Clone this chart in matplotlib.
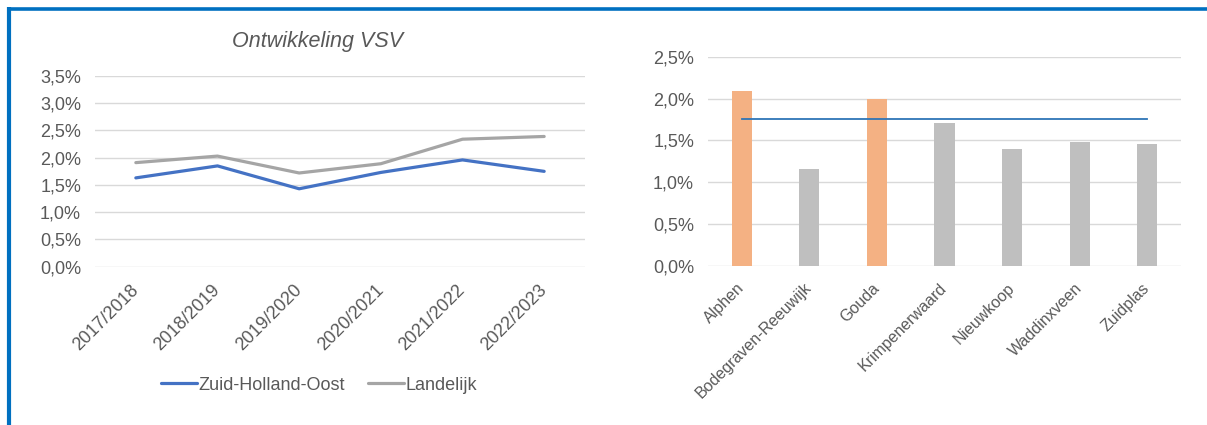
import matplotlib
matplotlib.use("Agg")
import matplotlib.pyplot as plt
from matplotlib.lines import Line2D
from matplotlib.ticker import FuncFormatter, MultipleLocator

plt.rcParams['font.family'] = ['Liberation Sans', 'DejaVu Sans']

# ---- data ----
years = ["2017/2018", "2018/2019", "2019/2020", "2020/2021", "2021/2022", "2022/2023"]
zho = [1.63, 1.85, 1.43, 1.73, 1.96, 1.75]
landelijk = [1.91, 2.03, 1.72, 1.89, 2.34, 2.39]

gemeenten = ["Alphen", "Bodegraven-Reeuwijk", "Gouda", "Krimpenerwaard",
             "Nieuwkoop", "Waddinxveen", "Zuidplas"]
gem_values = [2.09, 1.16, 2.00, 1.71, 1.40, 1.48, 1.46]
highlight = [True, False, True, False, False, False, False]
regio_gemiddelde = 1.75

title_left = "Ontwikkeling VSV"

# ---- style ----
W, H = 1207, 425
fig = plt.figure(figsize=(W / 100, H / 100), dpi=100)
txt = "#595959"
grid_c = "#D9D9D9"
fs = 13

def pct(v, pos):
    return f"{v:.1f}%".replace(".", ",")

def px_axes(x0, x1, ytop, ybot):
    return fig.add_axes([x0 / W, 1 - ybot / H, (x1 - x0) / W, (ybot - ytop) / H])

def style(ax):
    for s in ax.spines.values():
        s.set_visible(False)
    ax.yaxis.set_major_formatter(FuncFormatter(pct))
    ax.yaxis.grid(True, color=grid_c, lw=1.0)
    ax.set_axisbelow(True)
    ax.tick_params(axis='both', length=0, colors=txt, labelsize=fs)
    ax.tick_params(axis='y', pad=10)

# ---- left chart ----
ax1 = px_axes(95, 585, 76, 266.7)
x1 = range(len(years))
ax1.plot(x1, zho, color="#4472C4", lw=2.3, solid_capstyle='round', label="Zuid-Holland-Oost")
ax1.plot(x1, landelijk, color="#A5A5A5", lw=2.3, solid_capstyle='round', label="Landelijk")
ax1.set_xlim(-0.5, len(years) - 0.5)
ax1.set_ylim(0, 3.5)
ax1.yaxis.set_major_locator(MultipleLocator(0.5))
style(ax1)
ax1.set_xticks(list(x1))
ax1.set_xticklabels(years, rotation=45, ha='right', va='center', rotation_mode='anchor')
ax1.tick_params(axis='x', pad=15)
fig.text(318 / W, 1 - 42 / H, title_left, ha='center', va='center',
         fontsize=15.5, style='italic', color=txt)
fig.legend(handles=ax1.get_lines(), labels=[l.get_label() for l in ax1.get_lines()],
           loc='center', bbox_to_anchor=(319 / W, 1 - 385 / H), ncol=2, frameon=False,
           fontsize=fs, labelcolor=txt, handlelength=2.0, handletextpad=0.05,
           columnspacing=1.3)

# ---- right chart ----
ax2 = px_axes(708, 1181, 56.7, 266)
x2 = list(range(len(gemeenten)))
colors = ["#F4B183" if h else "#BFBFBF" for h in highlight]
ax2.bar(x2, gem_values, width=0.3, color=colors, zorder=2)
ax2.plot([x2[0], x2[-1]], [regio_gemiddelde, regio_gemiddelde], color="#2E75B6", lw=1.3, zorder=3)
ax2.set_xlim(-0.5, len(gemeenten) - 0.5)
ax2.set_ylim(0, 2.5)
ax2.yaxis.set_major_locator(MultipleLocator(0.5))
style(ax2)
ax2.set_xticks(x2)
ax2.set_xticklabels(gemeenten, rotation=45, ha='right', va='center', rotation_mode='anchor',
                    fontsize=11.5)
ax2.tick_params(axis='x', pad=14)

# ---- blue frame ----
frame_c = "#0070C0"
fig.add_artist(Line2D([7 / W, 1.0], [1 - 8.5 / H, 1 - 8.5 / H], transform=fig.transFigure,
                      color=frame_c, lw=2.6, solid_capstyle='butt'))
fig.add_artist(Line2D([9 / W, 9 / W], [1 - 7 / H, 0], transform=fig.transFigure,
                      color=frame_c, lw=3.0, solid_capstyle='butt'))

fig.savefig("out.png", dpi=100)
